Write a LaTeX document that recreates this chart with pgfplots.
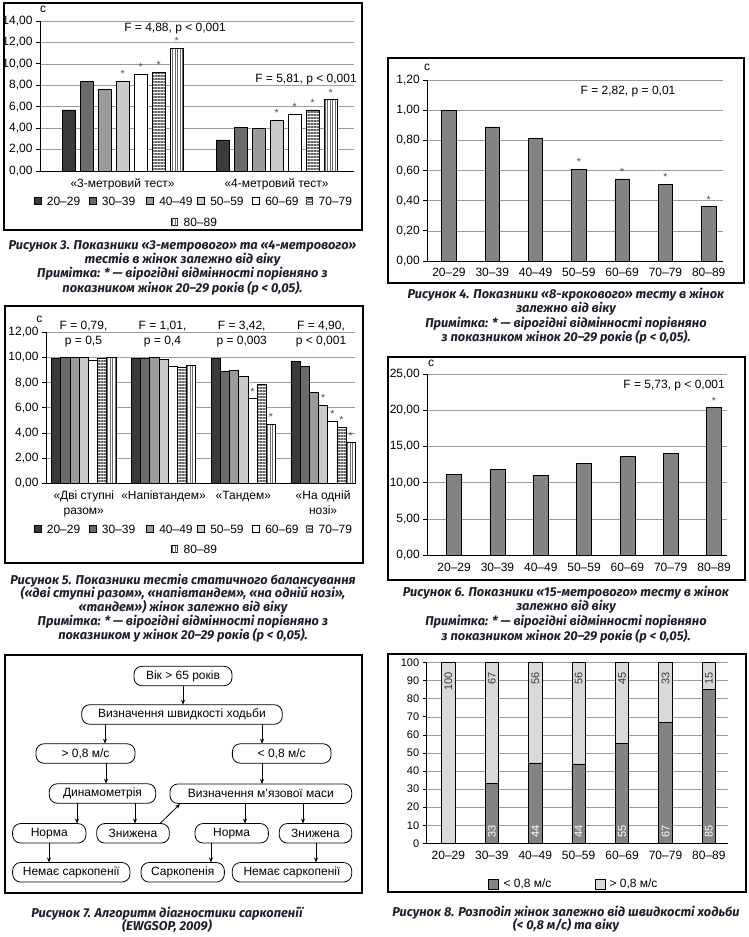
\documentclass[border=0pt]{standalone}
\usepackage{fontspec}
\setmainfont{Liberation Sans}
\newfontfamily\capfont{Fira Sans}
\usepackage{pgfplots}
\pgfplotsset{compat=1.18}
\usetikzlibrary{patterns.meta,arrows.meta}

\definecolor{g1}{HTML}{3A3A3A}
\definecolor{g2}{HTML}{6B6B6B}
\definecolor{g3}{HTML}{9B9B9B}
\definecolor{g4}{HTML}{CACACA}
\definecolor{gbar}{HTML}{838383}
\definecolor{glight}{HTML}{D9D9D9}
\definecolor{gridc}{HTML}{9C9C9C}
\definecolor{capc}{HTML}{1E1E2C}
\definecolor{starc}{HTML}{4A4A5A}

\newcommand\tf{\fontsize{12bp}{14bp}\selectfont}
\newcommand\capf{\capfont\bfseries\itshape\fontsize{12.8bp}{14bp}\selectfont}
\newcommand\capl[3]{\node[anchor=base, inner sep=0, text=capc, font=\capf] at (#1,#2) {#3};}

\tikzset{
  hstripe/.style={fill=white, postaction={pattern={Lines[angle=0,distance=3bp,line width=1.4bp]}, pattern color=g2}},
  vstripe/.style={fill=white, postaction={pattern={Lines[angle=90,distance=2.5bp,line width=1bp]}, pattern color=g2}},
  sw1/.style={fill=g1}, sw2/.style={fill=g2}, sw3/.style={fill=g3},
  sw4/.style={fill=g4}, sw5/.style={fill=white},
  fc/.style={draw=black, line width=0.8bp, rounded corners=8bp, minimum height=19.5bp, inner sep=0, font=\tf},
  arr/.style={-{Stealth[length=5bp,width=4bp]}, line width=0.8bp},
  frame/.style={draw=black, line width=1.1bp},
}

\pgfplotsset{
  base/.style={
    scale only axis, anchor=south west, clip=false,
    axis lines*=left, axis line style={black, line width=0.9bp},
    ymajorgrids, grid style={gridc, line width=0.7bp},
    xtick style={draw=none}, ytick style={black, line width=0.8bp},
    major tick length=4bp, tick align=outside, ytick pos=left,
    enlargelimits=false, ymin=0,
    tick label style={font=\tf},
    every axis plot/.append style={draw=black, line width=0.7bp},
    /pgf/number format/.cd, use comma, fixed, fixed zerofill, precision=2,
    assume math mode=true, 1000 sep={},
  },
  star/.style={nodes near coords, point meta=explicit symbolic,
    every node near coord/.append style={font=\fontsize{10.5bp}{10bp}\selectfont,
      text=starc, inner sep=3bp, anchor=south}},
}

\newcommand\legendrows[2]{%
  \foreach \xx/\sty/\lab in {34.3/sw1/20–29, 89.3/sw2/30–39,
      146.7/sw3/40–49, 197.7/sw4/50–59, 252.7/sw5/60–69,
      306/hstripe/70–79, 171/vstripe/80–89}{%
    \pgfmathsetmacro\yy{\xx==171 ? #2 : #1}
    \draw[\sty, draw=black, line width=0.6bp] (\xx,\yy-3.25) rectangle ++(6.5,6.5);
    \node[anchor=west, inner sep=0, font=\tf] at (\xx+12.4,\yy) {\lab};
  }%
}

\begin{document}
\begin{tikzpicture}[x=1bp, y=-1bp]
\useasboundingbox (0,0) rectangle (749,937);

% ---------- frames
\draw[frame] (4,3) rectangle (362,230);
\draw[frame] (388,58) rectangle (744,283);
\draw[frame] (5,306) rectangle (363,563);
\draw[frame] (388,357) rectangle (745,580);
\draw[frame] (5,655) rectangle (362,893);
\draw[frame] (388,654) rectangle (746,892);

% ---------- Figure 3
\begin{axis}[base, at={(40bp,-171bp)}, width=314bp, height=150bp,
  xmin=-0.536, xmax=1.503, ymax=14, ytick={0,2,...,14},
  xtick={0,1}, xticklabels={«3-метровий тест»,«4-метровий тест»},
  ybar=5bp, bar width=13bp]
\addplot[fill=g1] coordinates {(0,5.7) (1,2.9)};
\addplot[fill=g2] coordinates {(0,8.4) (1,4.1)};
\addplot[fill=g3] coordinates {(0,7.65) (1,4.0)};
\addplot[fill=g4, star] coordinates {(0,8.4)[*] (1,4.75)[*]};
\addplot[fill=white, star] coordinates {(0,9.05)[*] (1,5.3)[*]};
\addplot[hstripe, star] coordinates {(0,9.25)[*] (1,5.7)[*]};
\addplot[vstripe, star] coordinates {(0,11.45)[*] (1,6.65)[*]};
\end{axis}
\node[font=\tf, inner sep=0, anchor=base] at (43,12) {с};
\node[font=\tf, inner sep=0, anchor=base] at (175,31.5) {F = 4,88, p < 0,001};
\node[font=\tf, inner sep=0, anchor=base] at (306,82.5) {F = 5,81, p < 0,001};
\legendrows{201}{222}
\capl{182.5}{249}{Рисунок 3. Показники «3-метрового» та «4-метрового»}
\capl{182.5}{263.3}{тестів в жінок залежно від віку}
\capl{182.5}{277.6}{Примітка: * — вірогідні відмінності порівняно з}
\capl{182.5}{292}{показником жінок 20–29 років (p < 0,05).}

% ---------- Figure 4
\begin{axis}[base, at={(427.3bp,-261bp)}, width=295.7bp, height=180.7bp,
  xmin=-0.5, xmax=6.33, ymax=1.2, ytick={0,0.2,0.4,0.6,0.8,1,1.2},
  xtick={0,...,6}, xticklabels={20–29,30–39,40–49,50–59,60–69,70–79,80–89},
  ybar, bar width=14.5bp]
\addplot[fill=gbar, star] coordinates {(0,1.0)[\relax] (1,0.89)[\relax] (2,0.815)[\relax]
  (3,0.61)[*] (4,0.545)[*] (5,0.51)[*] (6,0.36)[*]};
\end{axis}
\node[font=\tf, inner sep=0, anchor=base] at (427,70) {с};
\node[font=\tf, inner sep=0, anchor=base] at (628,94) {F = 2,82, p = 0,01};
\capl{566}{298}{Рисунок 4. Показники «8-крокового» тесту в жінок}
\capl{566}{312.5}{залежно від віку}
\capl{566}{327}{Примітка: * — вірогідні відмінності порівняно}
\capl{566}{341.5}{з показником жінок 20–29 років (p < 0,05).}

% ---------- Figure 5
\begin{axis}[base, at={(46bp,-483.3bp)}, width=309bp, height=151bp,
  xmin=-0.474, xmax=3.40, ymax=12, ytick={0,2,...,12},
  xtick={0,1,2,3},
  xticklabels={{«Дві ступні\\разом»},{«Напівтандем»},{«Тандем»},{«На одній\\нозі»}},
  xticklabel style={align=center, font=\fontsize{12bp}{15bp}\selectfont},
  ybar=0pt, bar width=9.2bp]
\addplot[fill=g1] coordinates {(0,9.95) (1,9.95) (2,9.95) (3,9.7)};
\addplot[fill=g2] coordinates {(0,10.0) (1,9.95) (2,8.9) (3,9.3)};
\addplot[fill=g3] coordinates {(0,10.0) (1,10.0) (2,9.0) (3,7.25)};
\addplot[fill=g4, star] coordinates {(0,10.0)[\relax] (1,9.87)[\relax] (2,8.5)[\relax] (3,6.2)[*]};
\addplot[fill=white, star] coordinates {(0,9.75)[\relax] (1,9.3)[\relax] (2,6.75)[*] (3,4.95)[*]};
\addplot[hstripe, star] coordinates {(0,9.95)[\relax] (1,9.25)[\relax] (2,7.9)[\relax] (3,4.45)[*]};
\addplot[vstripe, star] coordinates {(0,10.0)[\relax] (1,9.4)[\relax] (2,4.7)[*] (3,3.25)[*]};
\end{axis}
\node[font=\tf, inner sep=0, anchor=base] at (39.3,322) {с};
\foreach \cx/\la/\lb in {83.5/{F = 0,79,}/{p = 0,5}, 162.5/{F = 1,01,}/{p = 0,4},
    241.7/{F = 3,42,}/{p = 0,003}, 321/{F = 4,90,}/{p < 0,001}}{
  \node[font=\tf, inner sep=0, anchor=base] at (\cx,329.3) {\la};
  \node[font=\tf, inner sep=0, anchor=base] at (\cx,344.3) {\lb};
}
\legendrows{529}{549}
\capl{183}{584}{Рисунок 5. Показники тестів статичного балансування}
\capl{183}{597.75}{(«дві ступні разом», «напівтандем», «на одній нозі»,}
\capl{183}{611.5}{«тандем») жінок залежно від віку}
\capl{183}{625.25}{Примітка: * — вірогідні відмінності порівняно з}
\capl{183}{639}{показником у жінок 20–29 років (p < 0,05).}

% ---------- Figure 6
\begin{axis}[base, at={(427.3bp,-555.3bp)}, width=299.7bp, height=181.3bp,
  xmin=-0.62, xmax=6.3, ymax=25, ytick={0,5,...,25},
  xtick={0,...,6}, xticklabels={20–29,30–39,40–49,50–59,60–69,70–79,80–89},
  ybar, bar width=15bp]
\addplot[fill=gbar, star] coordinates {(0,11.2)[\relax] (1,11.85)[\relax] (2,11.05)[\relax]
  (3,12.7)[\relax] (4,13.65)[\relax] (5,14.05)[\relax] (6,20.4)[*]};
\end{axis}
\node[font=\tf, inner sep=0, anchor=base] at (431,366.5) {с};
\node[font=\tf, inner sep=0, anchor=base east] at (725,388.5) {F = 5,73, p < 0,001};
\capl{566}{596}{Рисунок 6. Показники «15-метрового» тесту в жінок}
\capl{566}{610.7}{залежно від віку}
\capl{566}{625.3}{Примітка: * — вірогідні відмінності порівняно}
\capl{566}{640}{з показником жінок 20–29 років (p < 0,05).}

% ---------- Figure 7 (flowchart)
\node[fc, minimum width=98bp] at (183,676) {Вік > 65 років};
\node[fc, minimum width=200.6bp] at (182,714.5) {Визначення швидкості ходьби};
\node[fc, minimum width=99bp] at (85.5,753.5) {> 0,8 м/с};
\node[fc, minimum width=98.7bp] at (281.7,753.5) {< 0,8 м/с};
\node[fc, minimum width=106.4bp] at (102.5,793.5) {Динамометрія};
\node[fc, minimum width=181.7bp] at (260.8,793.7) {Визначення м’язової маси};
\node[fc, minimum width=73.3bp] at (49.3,833.3) {Норма};
\node[fc, minimum width=72.6bp] at (133,833.3) {Знижена};
\node[fc, minimum width=73.3bp] at (231.7,833.3) {Норма};
\node[fc, minimum width=72.4bp] at (315.5,833.3) {Знижена};
\node[fc, minimum width=117.3bp] at (71.3,872.3) {Немає саркопенії};
\node[fc, minimum width=83.3bp] at (182.7,872.3) {Саркопенія};
\node[fc, minimum width=119.4bp] at (292,872.3) {Немає саркопенії};
\draw[arr] (183,685.5) -- (183,704.7);
\draw[arr] (105,724.3) -- (105,743.7);
\draw[arr] (262,724.3) -- (262,743.7);
\draw[arr] (106,763.3) -- (106,783.7);
\draw[arr] (262,763.3) -- (262,783.9);
\draw[arr] (77,803.3) -- (77,823.5);
\draw[arr] (135,803.3) -- (135,823.5);
\draw[arr] (245,803.5) -- (245,823.5);
\draw[arr] (303,803.5) -- (303,823.5);
\draw[arr] (49,843) -- (49,862.5);
\draw[arr] (211,843) -- (211,862.5);
\draw[arr] (316,843) -- (316,862.5);
\draw[arr] (160,823.5) -- (180,804);
\capl{167}{917}{Рисунок 7. Алгоритм діагностики саркопенії}
\capl{167}{930}{(EWGSOP, 2009)}

% ---------- Figure 8
\begin{axis}[base, at={(426.7bp,-843.3bp)}, width=301.3bp, height=180.6bp,
  xmin=-0.5, xmax=6.44, ymax=100, ytick={0,10,...,100},
  yticklabel style={font=\fontsize{11bp}{13bp}\selectfont,
    /pgf/number format/fixed zerofill=false, /pgf/number format/precision=0},
  xtick={0,...,6}, xticklabels={20–29,30–39,40–49,50–59,60–69,70–79,80–89}]
\addplot[ybar, bar shift=0pt, bar width=13.5bp, fill=glight,
  nodes near coords, point meta=explicit symbolic,
  every node near coord/.append style={rotate=90, anchor=east, inner sep=0,
    xshift=-9bp, text=g1, font=\fontsize{11bp}{11bp}\selectfont}]
  coordinates {(0,100)[100] (1,100)[67] (2,100)[56] (3,100)[56] (4,100)[45] (5,100)[33] (6,100)[15]};
\addplot[ybar, bar shift=0pt, bar width=13.5bp, fill=gbar]
  coordinates {(1,33) (2,44.5) (3,44) (4,55.5) (5,67) (6,85)};
\addplot[draw=none, mark=none, nodes near coords, point meta=explicit symbolic,
  every node near coord/.append style={rotate=90, anchor=west, inner sep=0,
    xshift=5bp, text=white, font=\fontsize{11bp}{11bp}\selectfont}]
  coordinates {(1,0)[33] (2,0)[44] (3,0)[44] (4,0)[55] (5,0)[67] (6,0)[85]};
\end{axis}
\draw[fill=gbar, draw=black, line width=0.6bp] (488.3,879.3) rectangle (498.3,889.3);
\node[font=\tf, inner sep=0, anchor=west] at (503.3,884.3) {< 0,8 м/с};
\draw[fill=glight, draw=black, line width=0.6bp] (595,879.3) rectangle (605,889.3);
\node[font=\tf, inner sep=0, anchor=west] at (609.3,884.3) {> 0,8 м/с};
\capl{566}{916}{Рисунок 8. Розподіл жінок залежно від швидкості ходьби}
\capl{566}{929}{(< 0,8 м/с) та віку}
\end{tikzpicture}
\end{document}
